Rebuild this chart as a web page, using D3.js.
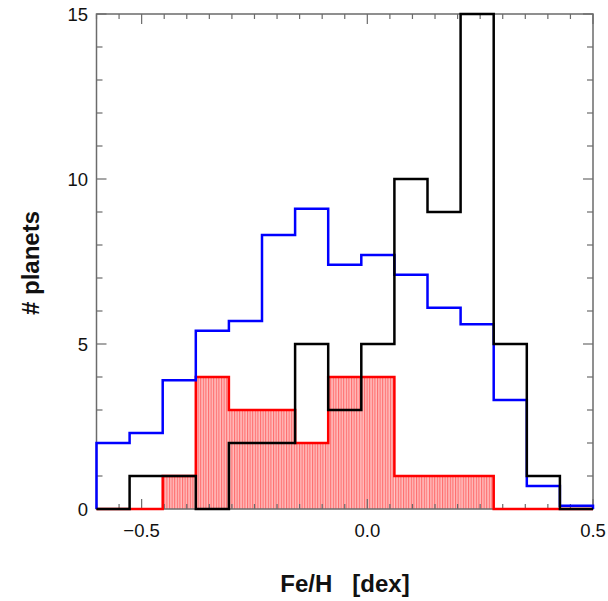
<!DOCTYPE html>
<html>
<head>
<meta charset="utf-8">
<script src="https://cdn.jsdelivr.net/npm/d3@7"></script>
<style>
  html, body { margin: 0; padding: 0; background: #fff; }
  svg { display: block; }
  text { font-family: "Liberation Sans", Arial, Helvetica, sans-serif; }
</style>
</head>
<body>
<svg id="chart" width="608" height="601"></svg>
<script>
// Metallicity histogram: 15 equal bins from -0.6 to 0.5 dex
const binStart = -0.6;
const binEnd = 0.5;
const binCount = 15;

// Counts per bin for each sample
const blueCounts  = [2.0, 2.3, 3.9, 5.4, 5.7, 8.3, 9.1, 7.4, 7.7, 7.1, 6.1, 5.6, 3.3, 0.7, 0.1];
const blackCounts = [0, 1, 1, 0, 2, 2, 5, 3, 5, 10, 9, 15, 5, 1, 0];
const redCounts   = [0, 0, 1, 4, 3, 3, 2, 4, 4, 1, 1, 1, 0, 0, 0];

// Axis ticks
const xMajorTicks = [-0.5, 0.0, 0.5];
const yMajorTicks = [0, 5, 10, 15];

const xLabel = "Fe/H\u00a0\u00a0\u00a0[dex]";
const yLabel = "# planets";

const svg = d3.select("#chart");
const plotLeft = 96.5, plotRight = 593, plotTop = 14, plotBottom = 509;

const x = d3.scaleLinear().domain([binStart, binEnd]).range([plotLeft, plotRight]);
const y = d3.scaleLinear().domain([0, 15]).range([plotBottom, plotTop]);

const binWidth = (binEnd - binStart) / binCount;
const edges = d3.range(binCount + 1).map(i => binStart + i * binWidth);

// Hatch pattern for the filled histogram
const defs = svg.append("defs");
const pat = defs.append("pattern")
  .attr("id", "hatch")
  .attr("patternUnits", "userSpaceOnUse")
  .attr("width", 2.6).attr("height", 10);
pat.append("rect").attr("width", 2.6).attr("height", 10).attr("fill", "#ffbcbc");
pat.append("line").attr("x1", 0.6).attr("x2", 0.6).attr("y1", 0).attr("y2", 10)
  .attr("stroke", "#ff3030").attr("stroke-width", 0.9).attr("stroke-opacity", 0.7);

// Filled bars for the red sample
svg.append("g").selectAll("rect")
  .data(redCounts.map((v, i) => ({ v, i })).filter(d => d.v > 0))
  .join("rect")
  .attr("x", d => x(edges[d.i]))
  .attr("width", d => x(edges[d.i + 1]) - x(edges[d.i]))
  .attr("y", d => y(d.v))
  .attr("height", d => y(0) - y(d.v))
  .attr("fill", "url(#hatch)");

// Frame
const frameColor = "#6b6b6b";
svg.append("rect")
  .attr("x", plotLeft).attr("y", plotTop)
  .attr("width", plotRight - plotLeft).attr("height", plotBottom - plotTop)
  .attr("fill", "none").attr("stroke", frameColor).attr("stroke-width", 1.5);

// Ticks on all four sides, pointing inward
const ticks = svg.append("g").attr("stroke", frameColor).attr("stroke-width", 1.2);
const xMinor = d3.range(-0.6, 0.5001, 0.05).map(v => +v.toFixed(2));
xMinor.forEach(v => {
  const major = xMajorTicks.some(m => Math.abs(m - v) < 1e-6);
  const len = major ? 10 : 5;
  const px = x(v);
  ticks.append("line").attr("x1", px).attr("x2", px).attr("y1", plotBottom).attr("y2", plotBottom - len);
  ticks.append("line").attr("x1", px).attr("x2", px).attr("y1", plotTop).attr("y2", plotTop + len);
});
d3.range(0, 16).forEach(v => {
  const major = yMajorTicks.includes(v);
  const len = major ? 10 : 6;
  const py = y(v);
  ticks.append("line").attr("x1", plotLeft).attr("x2", plotLeft + len).attr("y1", py).attr("y2", py);
  ticks.append("line").attr("x1", plotRight).attr("x2", plotRight - len).attr("y1", py).attr("y2", py);
});

// Tick labels
const fmt = d3.format(".1f");
svg.append("g").selectAll("text")
  .data(xMajorTicks).join("text")
  .attr("x", d => x(d)).attr("y", 537)
  .attr("text-anchor", "middle")
  .attr("font-size", 18.5).attr("fill", "#111")
  .text(d => fmt(d));
svg.append("g").selectAll("text")
  .data(yMajorTicks).join("text")
  .attr("x", 88).attr("y", d => y(d) + 6.5)
  .attr("text-anchor", "end")
  .attr("font-size", 18.5).attr("fill", "#111")
  .text(d => d);

// Step outlines
function stepPoints(counts) {
  const pts = [[edges[0], 0]];
  counts.forEach((v, i) => { pts.push([edges[i], v]); pts.push([edges[i + 1], v]); });
  pts.push([edges[binCount], 0]);
  return pts;
}
const line = d3.line().x(d => x(d[0])).y(d => y(d[1]));

[[redCounts, "#ff0000"], [blueCounts, "#0000ff"], [blackCounts, "#000000"]].forEach(([c, col]) => {
  svg.append("path")
    .attr("d", line(stepPoints(c)))
    .attr("fill", "none")
    .attr("stroke", col)
    .attr("stroke-width", 2.5)
    .attr("stroke-linejoin", "miter");
});

// Axis titles
svg.append("text")
  .attr("x", 345).attr("y", 592)
  .attr("text-anchor", "middle")
  .attr("font-size", 24).attr("font-weight", "bold").attr("fill", "#111")
  .text(xLabel);
svg.append("text")
  .attr("transform", "translate(39,263) rotate(-90)")
  .attr("text-anchor", "middle")
  .attr("font-size", 24).attr("font-weight", "bold").attr("fill", "#111")
  .text(yLabel);
</script>
</body>
</html>
